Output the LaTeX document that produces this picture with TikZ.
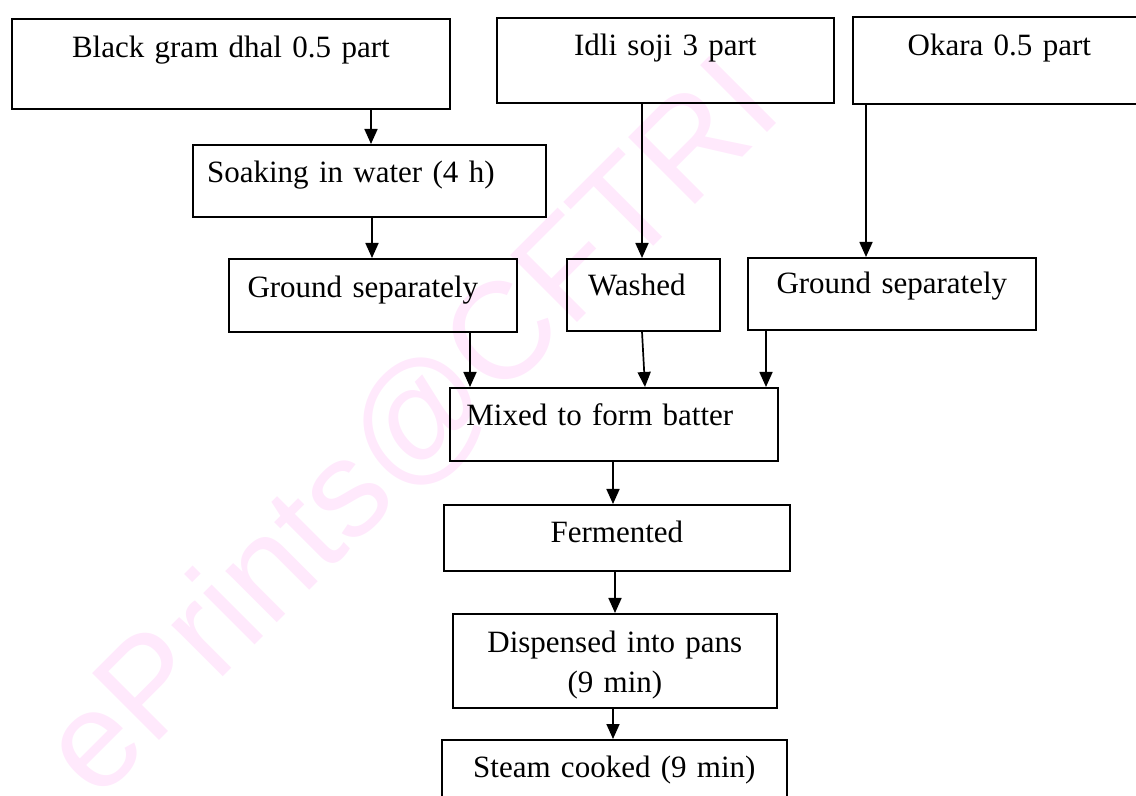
\documentclass[tikz,border=0pt]{standalone}
\usepackage{fontspec}
\setmainfont{Liberation Serif}
\newfontfamily\wmfont{Liberation Sans}
\usetikzlibrary{arrows.meta}
\definecolor{wmcol}{RGB}{255,233,252}
\begin{document}
\begin{tikzpicture}[x=0.5pt,y=-0.5pt,
  box/.style={draw, line width=0.85pt, inner sep=0pt, anchor=north west, align=center,
    font=\fontsize{15.5pt}{20pt}\selectfont},
  arr/.style={line width=0.85pt, -{Triangle[length=7.5pt,width=6.5pt]}},
  wmark/.style={font=\wmfont\fontsize{68.8pt}{70pt}\selectfont, text=wmcol, rotate=45,
    anchor=base west, inner sep=0pt}]
\useasboundingbox (0,0) rectangle (1136,796);
\clip (0,0) rectangle (1136,796);
% watermark
\node[wmark] (wm) at (97,803) {ePrints@CFTRI};
% boxes
\node[box, text width=219pt, text height=19.5pt, text depth=25.5pt] (bg) at (11,18) {Black gram dhal 0.5 part};
\node[box, text width=168.5pt, text height=19pt, text depth=23.5pt] (is) at (496,17) {Idli soji 3 part};
\node[box, text width=146.5pt, text height=19.5pt, text depth=24pt] (ok) at (852,16) {Okara 0.5 part};
\node[box, text width=176.5pt, text height=19pt, text depth=17pt] (sk) at (192,144) {\hspace*{-18.5pt}Soaking in water (4 h)};
\node[box, text width=144pt, text height=19.5pt, text depth=17pt] (gl) at (228,258) {\hspace*{-10pt}Ground separately};
\node[box, text width=76.5pt, text height=18.5pt, text depth=17.5pt] (wa) at (566,258) {\hspace*{-6.5pt}Washed};
\node[box, text width=144pt, text height=18pt, text depth=18pt] (gr) at (747,257) {Ground separately};
\node[box, text width=164pt, text height=19pt, text depth=17.5pt] (mx) at (449,387) {\hspace*{-14pt}Mixed to form batter};
\node[box, text width=173pt, text height=19pt, text depth=14pt] (fe) at (443,504) {Fermented};
\node[box, text width=162pt, text height=19.5pt, text depth=27.5pt] (dp) at (452,613) {Dispensed into pans\\(9 min)};
\node[box, text width=172.5pt, text height=19pt, text depth=26.5pt] (st) at (441,739) {Steam cooked (9 min)};
% arrow columns
\coordinate (c1) at (371,0);
\coordinate (c2) at (372,0);
\coordinate (c3) at (642,0);
\coordinate (c4) at (866,0);
\coordinate (c5) at (470,0);
\coordinate (c6) at (645,0);
\coordinate (c7) at (766,0);
\coordinate (c8) at (613,0);
\coordinate (c9) at (615,0);
% connectors
\draw[arr] (c1 |- bg.south) -- (c1 |- sk.north);
\draw[arr] (c2 |- sk.south) -- (c2 |- gl.north);
\draw[arr] (c3 |- is.south) -- (c3 |- wa.north);
\draw[arr] (c4 |- ok.south) -- (c4 |- gr.north);
\draw[arr] (c5 |- gl.south) -- (c5 |- mx.north);
\draw[arr] (c3 |- wa.south) -- (c6 |- mx.north);
\draw[arr] (c7 |- gr.south) -- (c7 |- mx.north);
\draw[arr] (c8 |- mx.south) -- (c8 |- fe.north);
\draw[arr] (c9 |- fe.south) -- (c9 |- dp.north);
\draw[arr] (c8 |- dp.south) -- (c8 |- st.north);
\end{tikzpicture}
\end{document}
